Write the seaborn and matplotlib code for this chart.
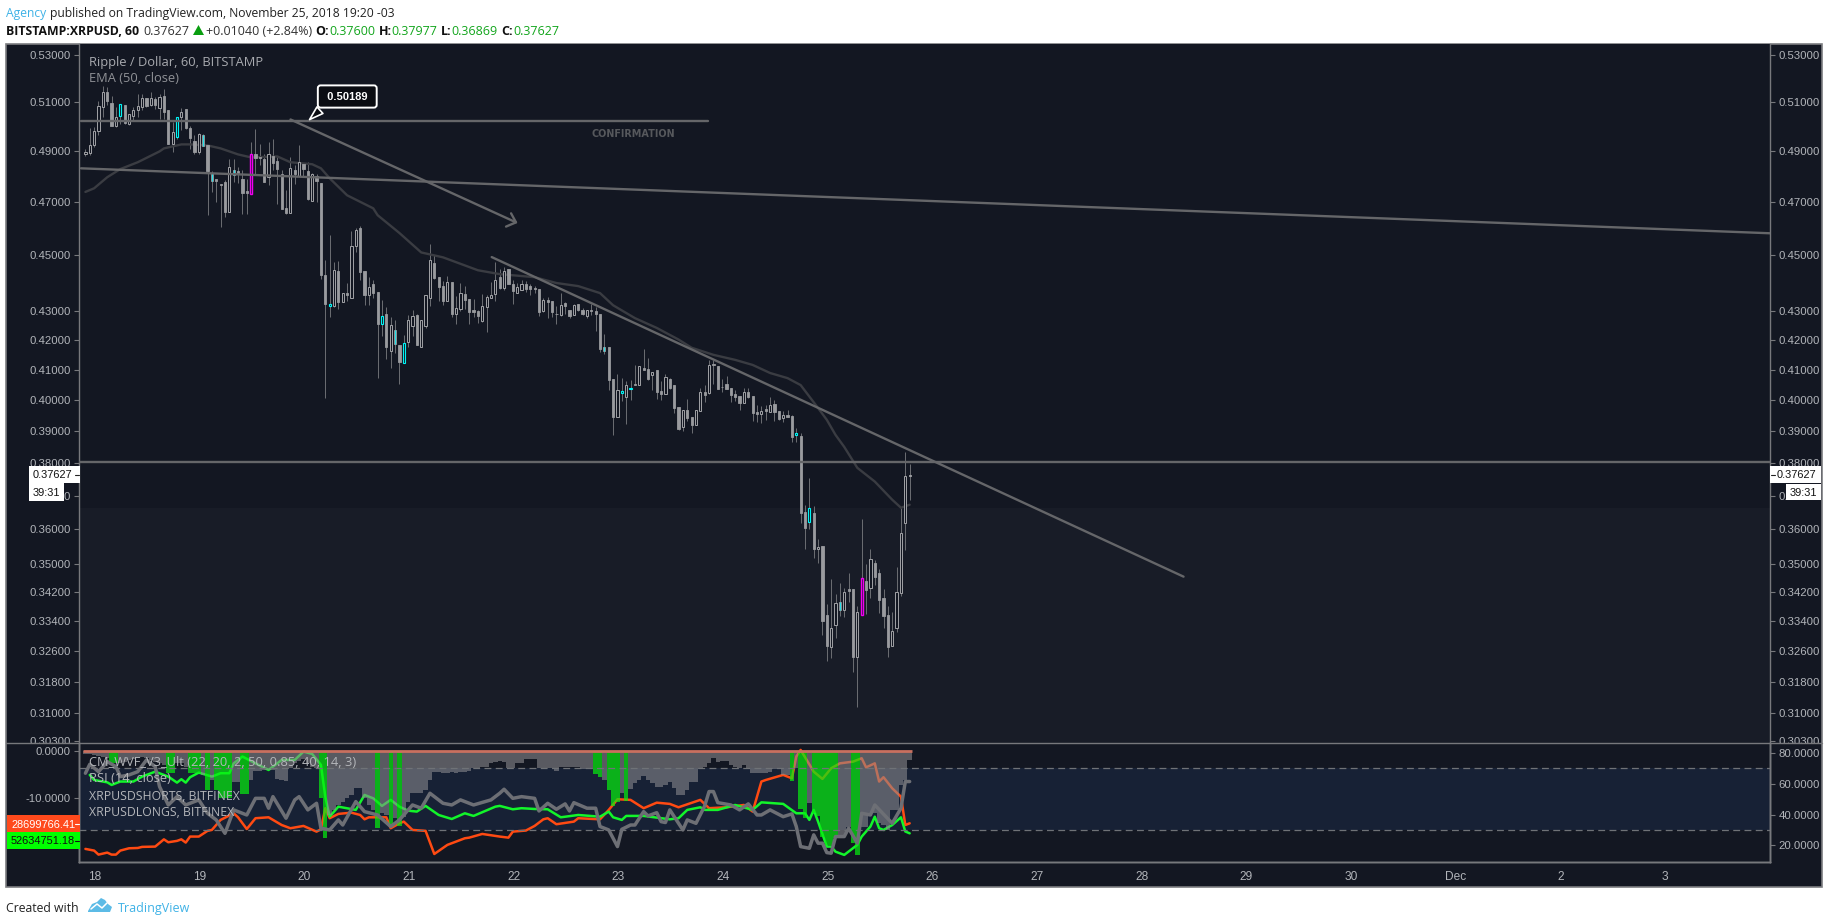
import numpy as np
import matplotlib
matplotlib.use("Agg")
import matplotlib.pyplot as plt
from matplotlib.patches import Rectangle, Polygon
from matplotlib.ticker import FixedLocator, FormatStrFormatter, NullLocator
import seaborn as sns

W, H = 1828, 924

# hourly candles, xrp/usd
opens = [.4888,.4891,.4925,.4982,.5078,.5142,.5093,.5001,.5042,.5085,
         .5009,.5042,.5066,.5078,.5116,.5085,.5112,.5074,.5126,.5065,
         .4926,.4956,.5037,.5069,.4991,.4938,.4895,.4965,.4922,.4813,
         .4791,.4770,.4777,.4662,.4823,.4819,.4788,.4741,.4732,.4888,
         .4874,.4866,.4795,.4878,.4858,.4810,.4676,.4659,.4823,.4801,
         .4848,.4822,.4705,.4800,.4775,.4429,.4319,.4319,.4443,.4333,
         .4363,.4348,.4534,.4601,.4443,.4357,.4395,.4367,.4257,.4289,
         .4164,.4234,.4184,.4123,.4195,.4250,.4286,.4178,.4247,.4348,
         .4471,.4421,.4389,.4337,.4402,.4292,.4308,.4361,.4343,.4304,
         .4302,.4266,.4314,.4348,.4362,.4421,.4383,.4450,.4396,.4364,
         .4376,.4398,.4391,.4382,.4377,.4300,.4339,.4335,.4292,.4288,
         .4330,.4306,.4288,.4325,.4304,.4284,.4304,.4300,.4290,.4176,
         .4176,.4068,.3946,.4024,.4011,.4035,.4051,.4050,.4105,.4101,
         .4083,.4098,.4029,.4021,.4068,.4049,.3977,.3914,.3968,.3945,
         .3920,.3966,.4025,.4023,.4118,.4112,.4044,.4052,.4040,.4020,
         .4013,.3990,.4026,.4013,.3960,.3956,.3971,.3961,.3987,.3965,
         .3942,.3952,.3948,.3888,.3884,.3651,.3623,.3648,.3543,.3552,
         .3357,.3272,.3331,.3394,.3372,.3428,.3428,.3245,.3358,.3453,
         .3433,.3504,.3475,.3405,.3357,.3274,.3323,.3418,.3620,.3760]
highs = [.4906,.4994,.4997,.5105,.5167,.5160,.5126,.5078,.5092,.5085,
         .5051,.5078,.5133,.5133,.5116,.5139,.5119,.5133,.5153,.5065,
         .5017,.5039,.5074,.5071,.5001,.4963,.4972,.4969,.4922,.4819,
         .4791,.4770,.4784,.4866,.4866,.4836,.4823,.4791,.4935,.4990,
         .4929,.4888,.4935,.4949,.4875,.4823,.4745,.4875,.4843,.4922,
         .4853,.4856,.4814,.4810,.4775,.4482,.4576,.4476,.4479,.4363,
         .4399,.4590,.4602,.4608,.4443,.4420,.4411,.4367,.4339,.4316,
         .4281,.4268,.4184,.4218,.4286,.4304,.4292,.4268,.4356,.4542,
         .4502,.4421,.4408,.4426,.4402,.4354,.4399,.4389,.4343,.4343,
         .4304,.4361,.4357,.4405,.4476,.4452,.4458,.4450,.4411,.4401,
         .4411,.4408,.4396,.4391,.4377,.4347,.4350,.4335,.4318,.4366,
         .4333,.4306,.4327,.4327,.4313,.4304,.4327,.4315,.4290,.4222,
         .4176,.4068,.4085,.4072,.4062,.4067,.4117,.4112,.4170,.4141,
         .4093,.4098,.4062,.4085,.4074,.4049,.3977,.3968,.4003,.3945,
         .3968,.4041,.4049,.4132,.4132,.4112,.4070,.4079,.4040,.4033,
         .4013,.4038,.4038,.4013,.3984,.3981,.3984,.4011,.4000,.3965,
         .3963,.3968,.3952,.3911,.3893,.3672,.3753,.3669,.3571,.3552,
         .3389,.3457,.3414,.3445,.3431,.3473,.3428,.3381,.3630,.3500,
         .3544,.3510,.3485,.3428,.3383,.3367,.3490,.3662,.3833,.37977]
lows = [.4879,.4882,.4915,.4963,.5037,.5085,.5001,.4997,.5010,.5010,
        .5006,.5024,.5037,.5065,.5078,.5082,.5071,.5028,.5031,.4927,
        .4895,.4949,.4983,.4990,.4908,.4888,.4888,.4919,.4650,.4739,
        .4700,.4606,.4644,.4662,.4778,.4775,.4656,.4656,.4732,.4804,
        .4843,.4778,.4765,.4823,.4694,.4674,.4656,.4659,.4771,.4801,
        .4801,.4706,.4703,.4700,.4414,.4005,.4281,.4315,.4307,.4331,
        .4336,.4345,.4514,.4411,.4321,.4321,.4345,.4071,.4213,.4136,
        .4105,.4155,.4054,.4123,.4175,.4213,.4182,.4178,.4243,.4319,
        .4413,.4337,.4321,.4336,.4281,.4257,.4301,.4309,.4257,.4281,
        .4258,.4264,.4227,.4345,.4336,.4379,.4375,.4396,.4327,.4363,
        .4374,.4367,.4357,.4363,.4284,.4298,.4277,.4281,.4256,.4285,
        .4292,.4275,.4286,.4301,.4286,.4277,.4286,.4230,.4159,.4153,
        .4033,.3888,.3944,.3997,.3923,.4000,.4049,.4049,.4098,.4067,
        .4033,.4003,.4000,.4020,.4037,.3959,.3904,.3900,.3931,.3893,
        .3918,.3963,.3992,.4021,.4054,.4035,.4027,.4035,.3995,.3997,
        .3968,.3989,.4005,.3931,.3930,.3926,.3936,.3960,.3932,.3936,
        .3930,.3946,.3864,.3867,.3619,.3544,.3601,.3516,.3504,.3302,
        .3234,.3242,.3294,.3355,.3352,.3392,.3204,.3116,.3358,.3360,
        .3403,.3440,.3364,.3321,.3245,.3274,.3310,.3409,.3541,.36869]
closes = [.4897,.4925,.4979,.5082,.5142,.5103,.5001,.5039,.5092,.5014,
          .5048,.5067,.5084,.5116,.5082,.5114,.5085,.5122,.5058,.4927,
          .4975,.5039,.5059,.4992,.4952,.4895,.4969,.4919,.4819,.4782,
          .4782,.4767,.4662,.4838,.4806,.4814,.4735,.4735,.4888,.4871,
          .4871,.4778,.4888,.4851,.4827,.4674,.4659,.4834,.4808,.4857,
          .4827,.4710,.4810,.4781,.4429,.4325,.4327,.4446,.4333,.4363,
          .4357,.4534,.4594,.4441,.4357,.4385,.4363,.4256,.4282,.4178,
          .4251,.4186,.4125,.4190,.4268,.4285,.4182,.4268,.4356,.4485,
          .4419,.4387,.4336,.4402,.4290,.4313,.4363,.4341,.4297,.4297,
          .4283,.4317,.4351,.4357,.4411,.4381,.4443,.4396,.4372,.4385,
          .4396,.4379,.4379,.4379,.4297,.4341,.4333,.4297,.4289,.4323,
          .4318,.4284,.4323,.4304,.4292,.4304,.4301,.4289,.4170,.4164,
          .4065,.3946,.4032,.4028,.4049,.4041,.4049,.4112,.4098,.4069,
          .4093,.4026,.4021,.4077,.4039,.3974,.3906,.3968,.3942,.3919,
          .3968,.4025,.4017,.4117,.4116,.4037,.4043,.4037,.4016,.4010,
          .3990,.4026,.4010,.3958,.3956,.3963,.3966,.3984,.3961,.3939,
          .3951,.3946,.3881,.3894,.3649,.3604,.3662,.3542,.3549,.3341,
          .3274,.3323,.3390,.3372,.3422,.3424,.3245,.3365,.3459,.3427,
          .3515,.3463,.3398,.3355,.3272,.3315,.3422,.3588,.3759,.37627]

cyan_bars = [8, 21, 56, 68, 73, 123, 125, 163, 166]
cyan_mid_bars = [27, 29, 34, 71, 119, 173]
magenta_bars = [38, 178]

ema_bar = [0, 2, 5, 8, 12, 17, 18, 22, 24, 28, 31, 35, 38, 44, 47, 52, 54, 56, 60, 66, 67, 72, 77, 82, 90,
           95, 103, 108, 113, 118, 121, 126, 131, 136, 139, 144, 149, 153, 157, 161, 164, 168, 170, 172,
           174, 177, 181, 185, 187, 189]
ema_val = [.4739, .4753, .4796, .4828, .4855, .4898, .4910, .4926, .4926, .4922, .4910, .4886, .4874, .4878,
           .4855, .4847, .4831, .4792, .4726, .4676, .4650, .4583, .4511, .4493, .4446, .4432, .4421, .4400,
           .4389, .4364, .4321, .4276, .4242, .4202, .4174, .4150, .4133, .4116, .4089, .4072, .4049, .3974,
           .3936, .3888, .3850, .3785, .3743, .3688, .3664, .3673]

price_ticks = [.53, .51, .49, .47, .45, .43, .42, .41, .40, .39, .38, .37, .36, .35, .342, .334, .326, .318, .31, .303]

# drawn tools: (day, price) pairs
level_top = ([17.866, 23.856], [.50189, .50189])
level_mid = ([17.847, 34.003], [.3802, .3802])
long_trend = ([17.866, 34.003], [.4831, .4582])
down_trend = ([21.79, 28.40], [.4494, .3464])
arrow_shaft = ([19.868, 22.022], [.5027, .4623])
arrow_head = ([21.975, 22.022, 21.927], [.4657, .4623, .4607])

# indicator pane
wvf = [-.7,-.7,-.85,-1.13,-1.41,-1.62,-2.68,-2.68,-2.68,-2.32,-1.97,-1.83,-1.62,-1.41,-1.62,-1.97,-2.32,-2.68,-3.03,
       -4.79,-4.79,-2.68,-2.68,-3.38,-4.79,-4.79,-4.79,-5.14,-8.31,-6.2,-8.31,-10.07,-10.07,-10.07,-6.55,-6.55,-9.23,-9.23,
       -6.2,-4.23,-4.23,-4.08,-4.08,-4.08,-6.06,-6.2,-6.34,-3.73,-2.68,-2.11,-1.83,-2.68,-3.52,-3.73,-10.07,-18.52,
       -13.59,-12.54,-11.48,-10.77,-10.07,-9.37,-7.96,-7.96,-10.07,-11.48,-12.54,-16.27,-13.24,-13.59,-15.7,-14.3,-15.92,
       -13.94,-10.77,-9.01,-9.01,-9.01,-8.31,-6.2,-4.44,-4.44,-4.79,-4.65,-4.44,-4.79,-4.44,-4.44,-4.23,-3.73,-3.73,-3.38,
       -3.38,-2.68,-2.32,-2.11,-2.32,-3.73,-3.73,-2.68,-2.68,-1.83,-1.83,-1.83,-3.73,-3.73,-3.73,-3.73,-4.23,-3.52,-3.52,
       -3.52,-3.52,-3.52,-3.94,-3.94,-3.94,-4.93,-5.49,-6.2,-8.31,-11.69,-10.77,-9.01,-10.56,-8.17,-6.76,-6.2,-5.35,-6.2,
       -6.9,-7.6,-7.6,-7.25,-6.55,-7.96,-9.37,-9.37,-8.31,-6.55,-6.55,-3.94,-3.38,-2.68,-1.62,-2.32,-2.11,-2.11,-3.03,-3.52,
       -3.73,-3.03,-3.94,-4.65,-4.65,-4.65,-4.65,-4.44,-3.94,-3.94,-5.14,-5.14,-6.34,-3.73,-12.39,-14.3,-11.13,-13.24,-13.8,
       -18.17,-19.93,-19.93,-18.52,-18.52,-18.17,-16.06,-19.58,-22.04,-16.06,-16.06,-13.24,-13.24,-15.35,-15.7,-16.76,-12.54,
       -12.54,-7.25,-6.2,-1.97]
wvf_green = [6, 7, 19, 20, 24, 25, 26, 28, 30, 31, 32, 33, 36, 37, 54, 55, 67, 70, 72, 117, 118, 120, 121, 122, 124,
             162, 164, 165, 167, 168, 169, 170, 171, 172, 176, 177]

rsi_bar = [0,1,3,5,7,8,10,12,14,16,17,19,21,23,26,28,30,32,34,37,39,41,42,43,46,48,49,51,53,54,56,58,59,62,64,67,70,72,
           75,77,79,82,84,86,89,93,95,96,98,100,103,104,106,108,110,111,112,115,117,118,120,122,123,125,126,128,129,131,
           132,133,134,137,138,140,142,143,144,145,148,150,152,154,155,157,160,162,163,164,166,167,168,169,170,171,172,
           174,175,177,178,180,181,185,187,188,189]
rsi_val = [66.8,72.6,67.8,74.3,71.1,64.6,65.7,67.8,75.4,71.1,58.1,46.2,51.6,46.2,49.5,40.8,36.5,27.8,43,39.7,50.5,50.5,
           44.1,51.6,37.6,49.5,51.6,43,47.3,31.1,30,36.5,33.2,48.4,41.9,39.7,32.2,36.5,46.2,44.1,53.8,47.3,46.2,49.5,46.2,
           49.5,53.8,56.4,50.5,51.6,50.5,42.3,47.3,43.4,46.9,42.3,47.7,44.1,44.1,32.2,30,19.2,30.4,33.2,33.2,41.9,39.1,
           41.2,35.4,34.8,43,30,36.5,34.3,45.6,54.9,54.9,47.7,46.2,43,46.9,39.7,39.7,43,38.6,40.4,32.2,19.2,18.1,26.8,21.4,
           21.4,15.3,14.9,25.7,25.7,31.1,21.4,40.8,39.7,46.2,34.3,44.1,61.4,61.4]

longs_bar = [1,2,5,6,8,11,13,16,19,21,22,23,24,26,29,31,33,34,36,39,42,45,48,50,52,54,55,56,58,62,64,66,68,70,72,74,76,78,
             81,84,87,89,94,95,98,100,103,106,109,113,118,120,121,123,124,128,134,136,138,141,142,145,149,153,155,160,163,
             165,166,167,168,170,171,172,174,177,178,180,181,182,183,185,187,188,189]
longs_val = [65.7,62.4,60.9,59.2,61.4,61.4,64.6,67.8,64.6,60.7,62.9,60.7,64.2,67.2,64.6,66.8,66.8,73.2,77.6,73.2,68.9,75.4,
             75.4,80.8,79.3,72.2,51.6,38.6,45.1,43,52.7,50.5,45.6,49.5,45.1,42.5,41.9,45.6,39.7,37.1,40.8,39.1,45.1,45.6,
             43.4,44.1,43.6,43.4,38.2,39.7,38.6,41.9,38.2,36.5,39.1,39.1,36.9,37.6,43,44.7,43,43,46.2,43,47.9,46.9,40.8,
             40.8,36.5,43,35.4,19.2,19.2,15.9,13.8,20.3,25.7,32.2,38.6,31.1,30,33.2,38.2,29,27.8]

shorts_bar = [0,2,3,5,6,7,8,10,12,13,16,18,19,21,22,23,24,26,28,29,31,34,35,37,39,42,45,47,50,53,54,55,56,58,61,63,64,65,
              69,70,72,73,75,78,80,83,87,88,91,95,97,98,101,103,105,106,108,112,113,118,120,122,125,128,131,134,136,141,
              143,147,151,153,155,156,160,162,163,164,167,169,171,173,176,178,179,181,182,183,185,187,188,189]
shorts_val = [17.7,16.6,14,15.3,14,14,16.6,18.1,18.3,19,19.2,23.9,22,22.9,23.9,21.8,25.7,25.7,29.4,30,36.5,40.8,38.2,30.6,
              37.6,38.2,33.2,31.1,32.6,28.9,30.4,44.1,37.6,40.4,41.2,39.7,36.9,38.2,38.2,31.1,34.3,35.4,30,29.4,14.4,20.3,
              24.6,25,27.4,25.7,25,28.9,29.6,32.6,36.9,37.6,33.7,35.4,37.6,36.9,43,49.9,49.5,44.1,47.7,46.9,44.7,49.5,44.1,
              44.7,46.2,41.9,61.4,62.4,65.7,63.5,77.6,81.9,67.8,63.1,70,73.2,74.3,76.5,70.6,73.2,61.4,64.2,57,51.6,33.2,34.3]

day_ticks = [18, 19, 20, 21, 22, 23, 24, 25, 26, 27, 28, 29, 30, 31, 32, 33]
day_labels = ["18", "19", "20", "21", "22", "23", "24", "25", "26", "27", "28", "29", "30", "Dec", "2", "3"]
rsi_ticks = [80, 60, 40, 20]
wvf_ticks = [0, -10, -20]

BG = "#131722"
TXT = "#b2b5ba"
AXC = "#77787c"
TOOL = "#656669"
first_day = 17.9083


def fx(x):
    return x / W


def fy(y):
    return 1 - y / H


def pane(top, bottom, left=79, right=1770):
    return [fx(left), fy(bottom), (right - left) / W, (bottom - top) / H]


def bar_days(idx):
    return first_day + np.asarray(idx) / 24


def tag(x0, y0, x1, y1, color, text, txt_color, tx, size=7.9):
    fig.add_artist(Rectangle((fx(x0), fy(y1)), (x1 - x0) / W, (y1 - y0) / H, transform=fig.transFigure,
                             fc=color, ec="none", zorder=20))
    fig.text(fx(tx), fy((y0 + y1) / 2), text, color=txt_color, fontsize=size, ha="left", va="center_baseline",
             family="Liberation Sans", zorder=21)


def dash(x0, x1, y, color):
    fig.add_artist(plt.Line2D([fx(x0), fx(x1)], [fy(y), fy(y)], color=color, lw=0.8, zorder=22,
                              transform=fig.transFigure))


def strip(x, y, parts, size):
    # texte colorido em sequencia numa linha so
    r = fig.canvas.get_renderer()
    for s, color, weight in parts:
        t = fig.text(fx(x), fy(y), s, color=color, fontsize=size, weight=weight, va="center_baseline",
                     family="Open Sans")
        x = t.get_window_extent(r).x1 + 3.5
    return x


sns.set_style("dark")
plt.rcParams["font.family"] = ["Liberation Sans", "DejaVu Sans"]
plt.rcParams["axes.linewidth"] = 1.0

fig = plt.figure(figsize=(W / 100, H / 100), dpi=100, facecolor="white")

fig.add_artist(Rectangle((fx(6), fy(887)), (1822 - 6) / W, (887 - 44) / H, transform=fig.transFigure,
                         fc=BG, ec="#7c7d80", lw=1.2, zorder=-5))

ax = fig.add_axes(pane(43.5, 743), facecolor=BG, zorder=1)
ax.set_yscale("log")
ax.set_ylim(.3025, .5348)
ax.set_xlim(17.847, 34.003)
ax.axhspan(.3025, .3663, color="#181c27", lw=0, zorder=0)

# candles
op, hi, lo, cl = map(np.array, (opens, highs, lows, closes))
xs = bar_days(np.arange(len(op)))
bw = 2.2 / 104.67
ax.vlines(xs, lo, hi, color="#696b70", lw=0.72, zorder=2)
for i in range(len(op)):
    top, bot = max(op[i], cl[i]), min(op[i], cl[i])
    if i in cyan_bars:
        fc, ec, lw = BG, "#00f5f5", 0.8
    elif i in magenta_bars:
        fc, ec, lw = BG, "#f000f0", 1.0
    elif cl[i] >= op[i]:
        fc, ec, lw = BG, "#9d9ea2", 0.72
    else:
        fc, ec, lw = "#9a9b9f", "#9a9b9f", 0.6
    ax.bar(xs[i], top - bot, bottom=bot, width=bw, fc=fc, ec=ec, lw=lw, zorder=3)
    if i in cyan_mid_bars:
        ax.vlines(xs[i], bot, top, color="#22e0e6", lw=0.8, zorder=4)

sns.lineplot(x=bar_days(ema_bar), y=ema_val, ax=ax, color="#3a3c42", lw=1.7, zorder=2.5, errorbar=None, estimator=None)

for line in (level_top, level_mid, long_trend, down_trend, arrow_shaft, arrow_head):
    ax.plot(line[0], line[1], color=TOOL, lw=1.7, zorder=5, solid_capstyle="round")

ax.text(23.14, .4966, "CONFIRMATION", color="#56585c", fontsize=6.9, weight="bold", family="DejaVu Sans",
        ha="center", va="center")
ax.annotate(" 0.50189 ", xy=(20.03, .50189), xytext=(20.41, .5122), color="white", fontsize=8, weight="bold",
            ha="center", va="center", family="Liberation Sans", zorder=8,
            bbox=dict(boxstyle="round,pad=0.55,rounding_size=0.25", fc="#0a0c12", ec="white", lw=1.4),
            arrowprops=dict(arrowstyle="wedge,tail_width=0.8,shrink_factor=0.5", fc="#0a0c12", ec="white", lw=1.2,
                            relpos=(0.12, 0)))

ax.yaxis.set_major_locator(FixedLocator(price_ticks))
ax.yaxis.set_minor_locator(NullLocator())
ax.yaxis.set_major_formatter(FormatStrFormatter("%.5f"))
ax.set_xticks([])
ax.tick_params(axis="y", which="major", left=True, right=True, labelleft=True, labelright=True, length=3.5,
               width=0.8, color=AXC, labelcolor=TXT, labelsize=8.2, pad=2.5)
ax.grid(False)
for s in ax.spines.values():
    s.set_color(AXC)
ax.spines["top"].set_visible(False)
ax.spines["bottom"].set_visible(False)

fig.text(fx(89), fy(61), "Ripple / Dollar, 60, BITSTAMP", color="#a9abb0", fontsize=9.3, family="Open Sans",
         va="center_baseline", zorder=15)
fig.text(fx(89), fy(77), "EMA (50, close)", color="#8f9196", fontsize=9.3, family="Open Sans",
         va="center_baseline", zorder=15)

# tapa o rodape dos rotulos de preco que passam da linha do painel
fig.add_artist(Rectangle((fx(7), fy(886)), (1821 - 7) / W, (886 - 743.5) / H, transform=fig.transFigure,
                         fc=BG, ec="none", zorder=2))

low = fig.add_axes(pane(743, 862), facecolor=BG, zorder=3)
low.set_xlim(17.847, 34.003)
low.set_ylim(9.2, 86.4)
low.axhspan(30, 70, color="#172135", lw=0, zorder=0)
sns.lineplot(x=bar_days(shorts_bar), y=shorts_val, ax=low, color="#ff4a12", lw=1.8, zorder=2, errorbar=None, estimator=None)
sns.lineplot(x=bar_days(longs_bar), y=longs_val, ax=low, color="#12f52a", lw=1.8, zorder=2.1, errorbar=None, estimator=None)
low.set_xticks(day_ticks)
low.set_xticklabels(day_labels)
low.tick_params(axis="x", length=3, width=0.8, color=AXC, labelcolor=TXT, labelsize=8.6, pad=3.5)
low.grid(False)

hist = low.twinx()
hist.set_zorder(4)
hist.patch.set_visible(False)
hist.set_ylim(-23.53, 1.63)
wv = np.array(wvf)
gmask = np.isin(np.arange(len(wv)), wvf_green)
hist.bar(xs[~gmask], wv[~gmask], width=1 / 24, color="#8c8c90", alpha=0.58, lw=0, zorder=2)
hist.bar(xs[gmask], wv[gmask], width=1 / 24, color="#06ef0f", alpha=0.7, lw=0, zorder=2)
hist.plot([xs[0] - 0.02, xs[-1] + 0.02], [0, 0], color="#c9705f", lw=2.0, zorder=3, solid_capstyle="butt")
hist.yaxis.tick_left()
hist.set_yticks(wvf_ticks)
hist.set_yticklabels([f"{v:.4f}" for v in wvf_ticks])
hist.tick_params(axis="y", length=3.5, width=0.8, color=AXC, labelcolor=TXT, labelsize=8.2, pad=2.5)
hist.grid(False)

top = low.twinx()
top.set_zorder(5)
top.patch.set_visible(False)
top.set_ylim(9.2, 86.4)
top.yaxis.tick_right()
top.set_yticks(rsi_ticks)
top.set_yticklabels([f"{v:.4f}" for v in rsi_ticks])
top.tick_params(axis="y", length=3.5, width=0.8, color=AXC, labelcolor=TXT, labelsize=8.2, pad=2.5)
low.tick_params(axis="y", left=False, right=False, labelleft=False, labelright=False)
for lev in (70, 30):
    top.axhline(lev, color="#6f7277", lw=0.9, ls=(0, (5.5, 3.5)), zorder=1)
sns.lineplot(x=bar_days(rsi_bar), y=rsi_val, ax=top, color="#6d6f75", lw=2.5, zorder=3, errorbar=None, estimator=None)
top.set_xlim(17.847, 34.003)
top.set_ylabel("")
top.grid(False)
for a in (low, hist, top):
    for s in a.spines.values():
        s.set_color(AXC)
    a.spines["top"].set_visible(False)

# linha cheia entre os paineis
fig.add_artist(plt.Line2D([fx(6), fx(1822)], [fy(743), fy(743)], color=AXC, lw=1.0, zorder=10, transform=fig.transFigure))

for i, (s, fs) in enumerate([("CM_WVF_V3_Ult (22, 20, 2, 50, 0.85, 40, 14, 3)", 9.3), ("RSI (14, close)", 9.3),
                             ("XRPUSDSHORTS, BITFINEX", 8.8), ("XRPUSDLONGS, BITFINEX", 8.8)]):
    fig.text(fx(89), fy(760.5 + 17 * i), s, color="#b4b6ba", fontsize=fs, family="Open Sans", va="center_baseline", zorder=15)

# price tags
tag(29, 466, 80, 483, "white", "0.37627", "#111111", 33)
tag(29, 483, 64, 501, "white", "39:31", "#111111", 33)
dash(75, 79, 474.5, "#222222")
tag(1770, 466, 1821, 483, "white", "0.37627", "#111111", 1777)
tag(1786, 484, 1821, 500, "white", "39:31", "#111111", 1790)
dash(1771, 1775, 474.5, "#222222")
tag(7, 815, 80, 832, "#ff4a1c", "28699766.41", "white", 11)
tag(7, 832, 80, 849, "#00ff00", "52634751.18", "#111111", 11)
dash(75, 79, 823.5, "white")
dash(75, 79, 840.5, "#111111")

# header
fig.canvas.draw()
strip(6, 12, [("Agency", "#3fb2e6", "normal"), ("published on TradingView.com, November 25, 2018 19:20 -03", "#222222", "normal")], 8.73)
x = strip(6, 30, [("BITSTAMP:XRPUSD, 60", "#111111", "bold")], 8.8)
x = strip(x + 1, 30, [("0.37627", "#333333", "normal")], 9.0)
fig.add_artist(Polygon([[fx(x), fy(35)], [fx(x + 11), fy(35)], [fx(x + 5.5), fy(25)]], transform=fig.transFigure,
                       fc="#0a9e10", ec="none"))
x = strip(x + 13, 30, [("+0.01040 (+2.84%)", "#333333", "normal")], 9.0)
for lab, val in (("O:", "0.37600"), ("H:", "0.37977"), ("L:", "0.36869"), ("C:", "0.37627")):
    r = fig.canvas.get_renderer()
    t = fig.text(fx(x), fy(30), lab, color="#111111", fontsize=9.0, weight="bold", va="center_baseline", family="Open Sans")
    x = t.get_window_extent(r).x1
    x = strip(x, 30, [(val, "#12a51c", "normal")], 9.0)

# footer
fig.text(fx(6), fy(907), "Created with", color="#222222", fontsize=8.8, family="Open Sans", va="center_baseline")
cloud = [(88, 911), (92, 904), (97, 902), (101, 898), (105, 900), (108, 904), (112, 907), (110, 912), (88, 912)]
fig.add_artist(Polygon([[fx(a), fy(b)] for a, b in cloud], transform=fig.transFigure, fc="#5cbbe6", ec="none"))
zig = [(91, 909), (97, 904), (102, 908), (107, 903)]
fig.add_artist(plt.Line2D([fx(a) for a, _ in zig], [fy(b) for _, b in zig], color="white", lw=1.1, transform=fig.transFigure))
fig.text(fx(118), fy(907), "TradingView", color="#3fb2e6", fontsize=9.0, family="Open Sans", va="center_baseline")

fig.savefig("out.png", dpi=100, facecolor="white")
